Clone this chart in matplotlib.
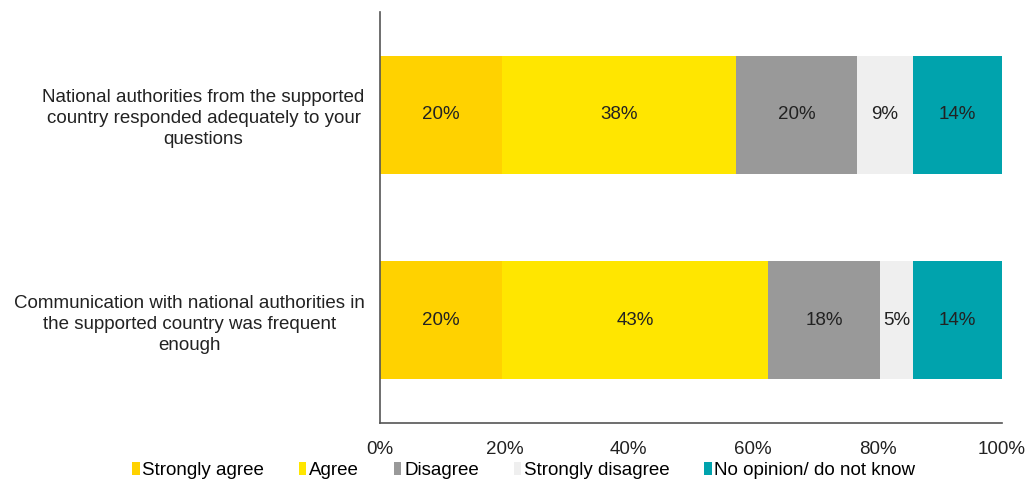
import numpy as np
import matplotlib.pyplot as plt

plt.rcParams['font.family'] = ['Liberation Sans', 'DejaVu Sans']

# Данные
questions = [
    'National authorities from the supported\ncountry responded adequately to your\nquestions',
    'Communication with national authorities in\nthe supported country was frequent\nenough',
]
answers = ['Strongly agree', 'Agree', 'Disagree', 'Strongly disagree', 'No opinion/ do not know']
strongly_agree = [19.6, 19.6]
agree = [37.6, 42.8]
disagree = [19.5, 18.0]
strongly_disagree = [9.0, 5.3]
no_opinion = [14.3, 14.3]
labels_top = ['20%', '38%', '20%', '9%', '14%']
labels_bottom = ['20%', '43%', '18%', '5%', '14%']

colors = ['#FFD200', '#FFE600', '#999999', '#EFEFEF', '#00A3AD']

series = [strongly_agree, agree, disagree, strongly_disagree, no_opinion]
bar_labels = [labels_top, labels_bottom]

fs = 13.5  # размер шрифта

fig = plt.figure(figsize=(10.27, 4.79), dpi=100)
ax = fig.add_axes([0.370, 0.117, 0.6057, 0.858])

y = np.array([1, 0])  # первый вопрос сверху
left = np.zeros(len(questions))
for j, (vals, name, col) in enumerate(zip(series, answers, colors)):
    vals = np.array(vals)
    ax.barh(y, vals, left=left, height=0.575, color=col, label=name)
    for i in range(len(questions)):
        ax.text(left[i] + vals[i] / 2, y[i], bar_labels[i][j],
                ha='center', va='center', fontsize=fs, color='#222222')
    left = left + vals

ax.set_xlim(0, 100)
ax.set_ylim(-0.5, 1.5)
ax.set_xticks(np.arange(0, 101, 20))
ax.set_xticklabels([f'{t}%' for t in range(0, 101, 20)], fontsize=fs, color='#222222')
ax.set_yticks(y)
ax.set_yticklabels(questions, fontsize=fs, color='#222222', ha='right',
                   multialignment='center', linespacing=1.3)
ax.tick_params(axis='y', length=0, pad=11)
ax.tick_params(axis='x', length=0, pad=13)

for s in ['top', 'right']:
    ax.spines[s].set_visible(False)
for s in ['left', 'bottom']:
    ax.spines[s].set_color('#555555')
    ax.spines[s].set_linewidth(1.2)

fig.legend(loc='lower center', bbox_to_anchor=(0.51, -0.035), ncol=5, frameon=False,
           fontsize=fs, handlelength=0.4, handleheight=0.7, handletextpad=0.15,
           columnspacing=1.85)

fig.savefig('out.png', dpi=100)
